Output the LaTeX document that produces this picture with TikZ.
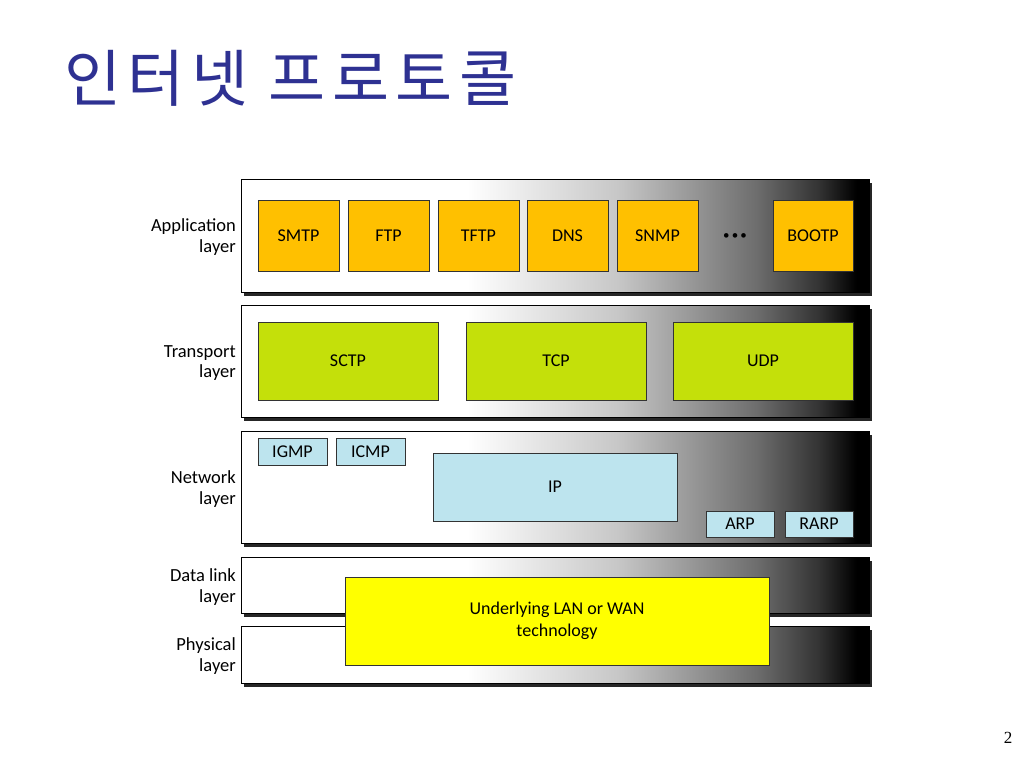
\documentclass[tikz,border=0pt]{standalone}
\usepackage{fontspec}
\setmainfont{Carlito}
\newfontfamily\krfont[LetterSpace=10.5]{Noto Sans CJK KR}
\newfontfamily\pnfont{Liberation Serif}
\usetikzlibrary{shadows}
\definecolor{titleblue}{RGB}{46,49,146}
\definecolor{apporange}{RGB}{255,192,0}
\definecolor{tgreen}{RGB}{196,224,10}
\definecolor{nblue}{RGB}{189,228,238}
\definecolor{lyellow}{RGB}{255,255,0}
\pgfdeclarehorizontalshading{bandshade}{100bp}{color(0bp)=(white); color(43bp)=(white); color(55bp)=(black!22); color(66bp)=(black!57); color(71bp)=(black!80); color(74bp)=(black); color(100bp)=(black)}
\tikzset{
  band/.style={draw=black, line width=0.8pt, shading=bandshade, inner sep=0pt,
    drop shadow={shadow xshift=3pt, shadow yshift=-3.5pt, fill=black!85, opacity=1}},
  pbox/.style={draw=black!80, line width=0.6pt, inner sep=0pt, font=\fontsize{18}{21}\selectfont, align=center},
  appbox/.style={pbox, fill=apporange, minimum width=81pt, minimum height=71pt},
  trbox/.style={pbox, fill=tgreen, minimum width=180pt, minimum height=78pt},
  nbox/.style={pbox, fill=nblue},
  lbl/.style={anchor=east, align=right, font=\fontsize{18.5}{20.5}\selectfont, inner sep=0pt},
}
\begin{document}
\begin{tikzpicture}[x=1pt,y=-1pt]
\useasboundingbox (0,0) rectangle (1024,768);
% title
\node[anchor=base west, inner sep=0pt, text=titleblue, font=\krfont\fontsize{62}{66}\selectfont] (title) at (64,101) {인터넷 프로토콜};
% bands
\node[band, minimum width=628pt, minimum height=113pt] (appband) at (555,235.5) {};
\node[band, minimum width=628pt, minimum height=112pt] (trband) at (555,361) {};
\node[band, minimum width=628pt, minimum height=112pt] (nband) at (555,487) {};
\node[band, minimum width=628pt, minimum height=56pt] (dlband) at (555,585) {};
\node[band, minimum width=628pt, minimum height=57pt] (phband) at (555,654.5) {};
% labels
\node[lbl] (lapp) at (236,237) {Application\\layer};
\node[lbl] (ltr) at (236,363) {Transport\\layer};
\node[lbl] (lnet) at (236,489) {Network\\layer};
\node[lbl] (ldl) at (236,587) {Data link\\layer};
\node[lbl] (lph) at (236,656) {Physical\\layer};
% application
\node[appbox] (smtp) at (298.5,235.5) {SMTP};
\node[appbox] (ftp) at (388.5,235.5) {FTP};
\node[appbox] (tftp) at (478.5,235.5) {TFTP};
\node[appbox] (dns) at (567.5,235.5) {DNS};
\node[appbox] (snmp) at (657.5,235.5) {SNMP};
\node[inner sep=0pt, font=\fontsize{13}{13}\selectfont] (dots) at (735,237) {\textbullet\,\textbullet\,\textbullet};
\node[appbox, minimum width=80pt] (bootp) at (813,235.5) {BOOTP};
% transport
\node[trbox] (sctp) at (348,361) {SCTP};
\node[trbox] (tcp) at (556,361) {TCP};
\node[trbox] (udp) at (763,361) {UDP};
% network
\node[nbox, minimum width=69pt, minimum height=27pt] (igmp) at (292.5,451.5) {IGMP};
\node[nbox, minimum width=69pt, minimum height=27pt] (icmp) at (370.5,451.5) {ICMP};
\node[nbox, minimum width=244pt, minimum height=68pt] (ip) at (555,487) {IP};
\node[nbox, minimum width=68pt, minimum height=26pt] (arp) at (740,524) {ARP};
\node[nbox, minimum width=68pt, minimum height=26pt] (rarp) at (819,524) {RARP};
% underlying
\node[pbox, fill=lyellow, minimum width=424pt, minimum height=88pt, font=\fontsize{18}{22}\selectfont] (lan) at (557,621) {Underlying LAN or WAN\\technology};
% page number
\node[font=\pnfont\fontsize{17}{17}\selectfont, inner sep=0pt] (pnum) at (1008,738) {2};
\end{tikzpicture}
\end{document}
